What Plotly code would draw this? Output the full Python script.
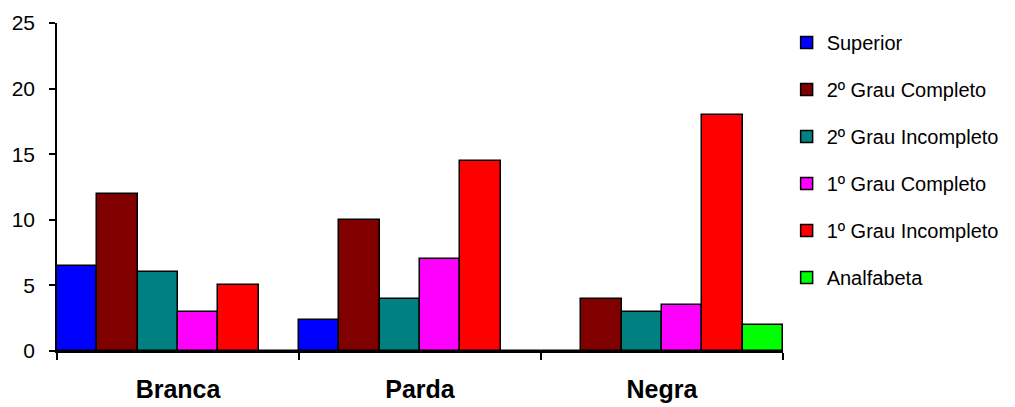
import plotly.graph_objects as go

# Categories and series
racas = ["Branca", "Parda", "Negra"]
superior = [6.5, 2.4, 0]
segundo_completo = [12, 10, 4]
segundo_incompleto = [6, 4, 3]
primeiro_completo = [3, 7, 3.5]
primeiro_incompleto = [5, 14.5, 18]
analfabeta = [0, 0, 2]

series_names = [
    "Superior",
    "2º Grau Completo",
    "2º Grau Incompleto",
    "1º Grau Completo",
    "1º Grau Incompleto",
    "Analfabeta",
]
series_values = [
    superior,
    segundo_completo,
    segundo_incompleto,
    primeiro_completo,
    primeiro_incompleto,
    analfabeta,
]
colors = ["#0000FF", "#800000", "#008080", "#FF00FF", "#FF0000", "#00FF00"]

fig = go.Figure()
for i, (name, vals, col) in enumerate(zip(series_names, series_values, colors)):
    fig.add_trace(
        go.Bar(
            x=racas,
            y=vals,
            name=name,
            legendgroup=f"g{i}",
            marker=dict(color=col, line=dict(color="#000000", width=1.5)),
        )
    )

W, H = 1015, 407
fig.update_layout(
    width=W,
    height=H,
    barmode="group",
    bargap=0,
    bargroupgap=0,
    plot_bgcolor="white",
    paper_bgcolor="white",
    margin=dict(l=57, r=232, t=23, b=56, pad=0, autoexpand=False),
    font=dict(family="Liberation Sans, Arial, sans-serif", color="#000000"),
    legend=dict(
        x=1.005,
        y=1.0,
        xanchor="left",
        yanchor="top",
        font=dict(size=20, color="#000000"),
        tracegroupgap=18,
        bgcolor="rgba(0,0,0,0)",
        traceorder="grouped",
    ),
    showlegend=True,
)
fig.update_yaxes(
    range=[0, 25],
    dtick=5,
    tick0=0,
    showgrid=False,
    zeroline=False,
    showline=True,
    linecolor="#000000",
    linewidth=1.5,
    ticks="outside",
    ticklen=6,
    tickwidth=1.5,
    tickcolor="#000000",
    tickfont=dict(size=21, color="#000000"),
    ticklabelstandoff=10,
    automargin=False,
)
fig.update_xaxes(
    showgrid=False,
    showline=True,
    linecolor="#000000",
    linewidth=1.5,
    ticks="outside",
    tickson="boundaries",
    ticklen=7,
    tickwidth=1.5,
    tickcolor="#000000",
    tickfont=dict(size=25, color="#000000", family="Liberation Sans, Arial, sans-serif", weight="bold"),
    ticklabelstandoff=15,
    automargin=False,
)

fig.write_html("out.html")
